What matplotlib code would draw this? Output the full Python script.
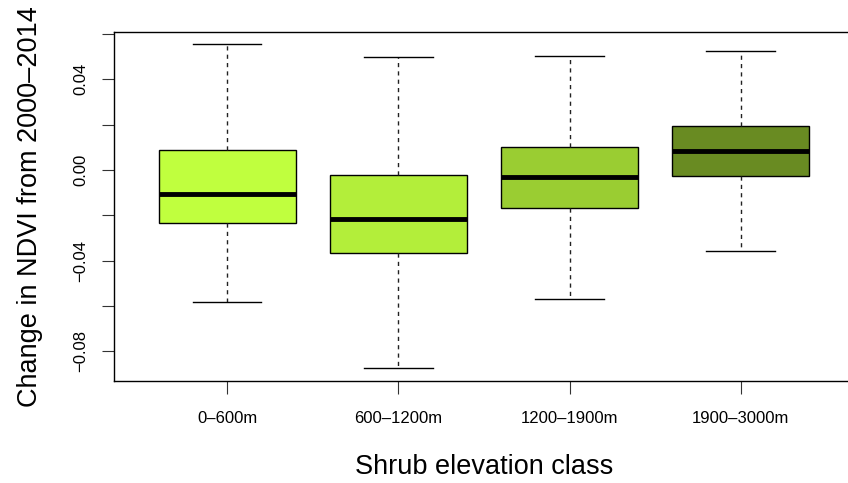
import matplotlib
matplotlib.use("Agg")
import matplotlib.pyplot as plt
from matplotlib.ticker import FixedLocator, FuncFormatter

# values (change in NDVI 2000-2014)
classes = ["0\u2013600m", "600\u20131200m", "1200\u20131900m", "1900\u20133000m"]
whislo = [-0.0582, -0.0875, -0.0568, -0.0356]
q1 = [-0.0235, -0.0368, -0.0168, -0.0026]
med = [-0.0106, -0.0215, -0.0029, 0.0084]
q3 = [0.0088, -0.0021, 0.0100, 0.0193]
whishi = [0.0556, 0.0497, 0.0502, 0.0525]
colors = ["#C0FF3E", "#B3EE3A", "#9ACD32", "#698B22"]

yticks_major = [-0.08, -0.04, 0.00, 0.04]
yticks_minor = [-0.06, -0.02, 0.02, 0.06]

plt.rcParams["font.family"] = ["Liberation Sans", "DejaVu Sans"]

fig = plt.figure(figsize=(8.48, 4.83), dpi=100)
ax = fig.add_axes([0.1348, 0.2118, 0.8718, 0.7226])

stats = []
for i in range(len(classes)):
    stats.append({"whislo": whislo[i], "q1": q1[i], "med": med[i],
                  "q3": q3[i], "whishi": whishi[i], "fliers": []})

pos = list(range(1, len(classes) + 1))
bp = ax.bxp(stats, positions=pos, widths=0.8, capwidths=0.4,
            patch_artist=True, showfliers=False,
            boxprops=dict(edgecolor="black", linewidth=1.0),
            medianprops=dict(color="black", linewidth=3.5, solid_capstyle="butt"),
            whiskerprops=dict(color="#222222", linewidth=1.0, linestyle=(0, (3, 3))),
            capprops=dict(color="black", linewidth=1.0))
for patch, c in zip(bp["boxes"], colors):
    patch.set_facecolor(c)

ax.set_xlim(0.34, 4.66)
ax.set_ylim(-0.0930, 0.0610)

ax.set_xticks(pos)
ax.set_xticklabels(classes, fontsize=12)
ax.tick_params(axis="x", length=9, width=0.8, pad=13, color="#333333")

ax.yaxis.set_major_locator(FixedLocator(yticks_major))
ax.yaxis.set_minor_locator(FixedLocator(yticks_minor))
ax.yaxis.set_major_formatter(FuncFormatter(lambda v, p: ("%.2f" % v).replace("-", "\u2212")))
ax.tick_params(axis="y", which="both", length=9, width=0.8, color="#333333")
ax.tick_params(axis="y", which="major", labelsize=12, pad=10, labelrotation=90)
for lab in ax.get_yticklabels():
    lab.set_va("center")

for sp in ax.spines.values():
    sp.set_linewidth(1.0)

ax.set_xlabel("Shrub elevation class", fontsize=19.5)
ax.xaxis.set_label_coords(0.5, -0.248)
ax.xaxis.label.set_va("center")
ax.set_ylabel("Change in NDVI from 2000\u20132014", fontsize=19.5)
ax.yaxis.set_label_coords(-0.114, 0.5)
ax.yaxis.label.set_va("center")

fig.savefig("out.png", dpi=100)
